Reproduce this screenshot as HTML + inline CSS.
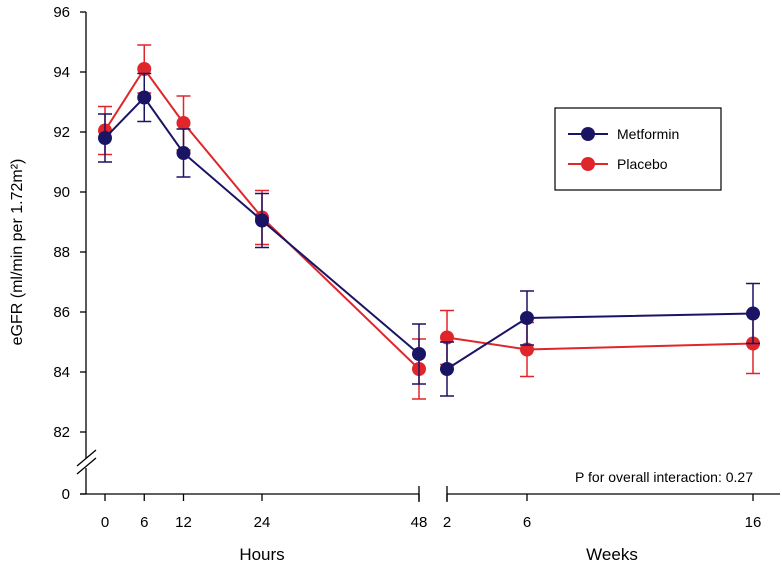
<!DOCTYPE html>
<html><head><meta charset="utf-8"><style>
html,body{margin:0;padding:0;background:#fff;}
svg{display:block;font-family:"Liberation Sans",Arial,sans-serif;}
</style></head><body>
<svg id="chart" width="782" height="567" viewBox="0 0 782 567">
<g id="axes" stroke="#000" stroke-width="1.3" fill="none"></g>
<g id="marks"></g>
<g id="labels" font-size="15" fill="#000"></g>
<text transform="translate(22,252) rotate(-90)" text-anchor="middle" font-size="16">eGFR (ml/min per 1.72m²)</text>
<text x="262" y="560" text-anchor="middle" font-size="17">Hours</text>
<text x="612" y="560" text-anchor="middle" font-size="17">Weeks</text>
<text x="753" y="482" text-anchor="end" font-size="14">P for overall interaction: 0.27</text>
<g>
<rect x="555" y="108" width="166" height="82" fill="#fff" stroke="#000" stroke-width="1.2"/>
<line x1="568" y1="134" x2="608" y2="134" stroke="#1a1464" stroke-width="2"/>
<circle cx="588" cy="134" r="7" fill="#1a1464"/>
<text x="617" y="139" font-size="14">Metformin</text>
<line x1="568" y1="164" x2="608" y2="164" stroke="#e0262b" stroke-width="2"/>
<circle cx="588" cy="164" r="7" fill="#e0262b"/>
<text x="617" y="169" font-size="14">Placebo</text>
</g>
</svg>
<script>
const hourTicks=[0,6,12,24,48];
const weekTicks=[2,6,16];
const yTicks=[82,84,86,88,90,92,94,96];
const metHours=[91.8,93.15,91.3,89.05,84.6];
const metHoursErr=[0.8,0.8,0.8,0.9,1.0];
const metWeeks=[84.1,85.8,85.95];
const metWeeksErr=[0.9,0.9,1.0];
const plaHours=[92.05,94.1,92.3,89.15,84.1];
const plaHoursErr=[0.8,0.8,0.9,0.9,1.0];
const plaWeeks=[85.15,84.75,84.95];
const plaWeeksErr=[0.9,0.9,1.0];

const NS='http://www.w3.org/2000/svg';
function yS(v){return 12+(96-v)*30;}
function xH(h){return 105+h*(314/48);}
function xW(w){return w<=6?447+(w-2)*20:527+(w-6)*22.6;}
function mk(tag,attrs,parent){const e=document.createElementNS(NS,tag);for(const k in attrs)e.setAttribute(k,attrs[k]);parent.appendChild(e);return e;}
const axes=document.getElementById('axes'),marks=document.getElementById('marks'),labels=document.getElementById('labels');
let e;
e=mk('path',{d:'M86,12 V458 M86,468 V494'},axes);


e=mk('path',{d:'M77,466 L96,450 M77,474 L96,458'},axes);


e=mk('path',{d:'M80,494 H419 M419,486 V502 M447,486 V502 M447,494 H780'},axes);


e=mk('path',{d:'M80,494 H86'},axes);


e=mk('text',{x:70,y:499,'text-anchor':'end'},labels);e.textContent='0';


yTicks.forEach(v=>{
 e=mk('line',{x1:80,x2:86,y1:yS(v),y2:yS(v)},axes);
 
 
 e=mk('text',{x:70,y:yS(v)+5,'text-anchor':'end'},labels);e.textContent=v;
 
 
});
hourTicks.forEach(h=>{
 e=mk('line',{x1:xH(h),x2:xH(h),y1:494,y2:501},axes);
 
 
 e=mk('text',{x:xH(h),y:527,'text-anchor':'middle'},labels);e.textContent=h;
 
 
});
weekTicks.forEach(w=>{
 e=mk('line',{x1:xW(w),x2:xW(w),y1:494,y2:501},axes);
 
 
 e=mk('text',{x:xW(w),y:527,'text-anchor':'middle'},labels);e.textContent=w;
 
 
});
function series(name,color,xs,xf,vals,errs){
 const g=mk('g',{},marks);
 
 
 const pts=xs.map((x,i)=>xf(x)+','+yS(vals[i])).join(' ');
 e=mk('polyline',{points:pts,fill:'none',stroke:color,'stroke-width':2},g);
 
 
 xs.forEach((x,i)=>{
  const cx=xf(x),t=yS(vals[i]+errs[i]),b=yS(vals[i]-errs[i]);
  e=mk('path',{d:`M${cx},${t} V${b} M${cx-7},${t} H${cx+7} M${cx-7},${b} H${cx+7}`,stroke:color,'stroke-width':1.5,fill:'none'},g);
  
  
  e=mk('circle',{cx:cx,cy:yS(vals[i]),r:7,fill:color},g);
  
  
 });
}
series('placebo-hours','#e0262b',hourTicks,xH,plaHours,plaHoursErr);
series('placebo-weeks','#e0262b',weekTicks,xW,plaWeeks,plaWeeksErr);
series('metformin-hours','#1a1464',hourTicks,xH,metHours,metHoursErr);
series('metformin-weeks','#1a1464',weekTicks,xW,metWeeks,metWeeksErr);
</script>
</body></html>
